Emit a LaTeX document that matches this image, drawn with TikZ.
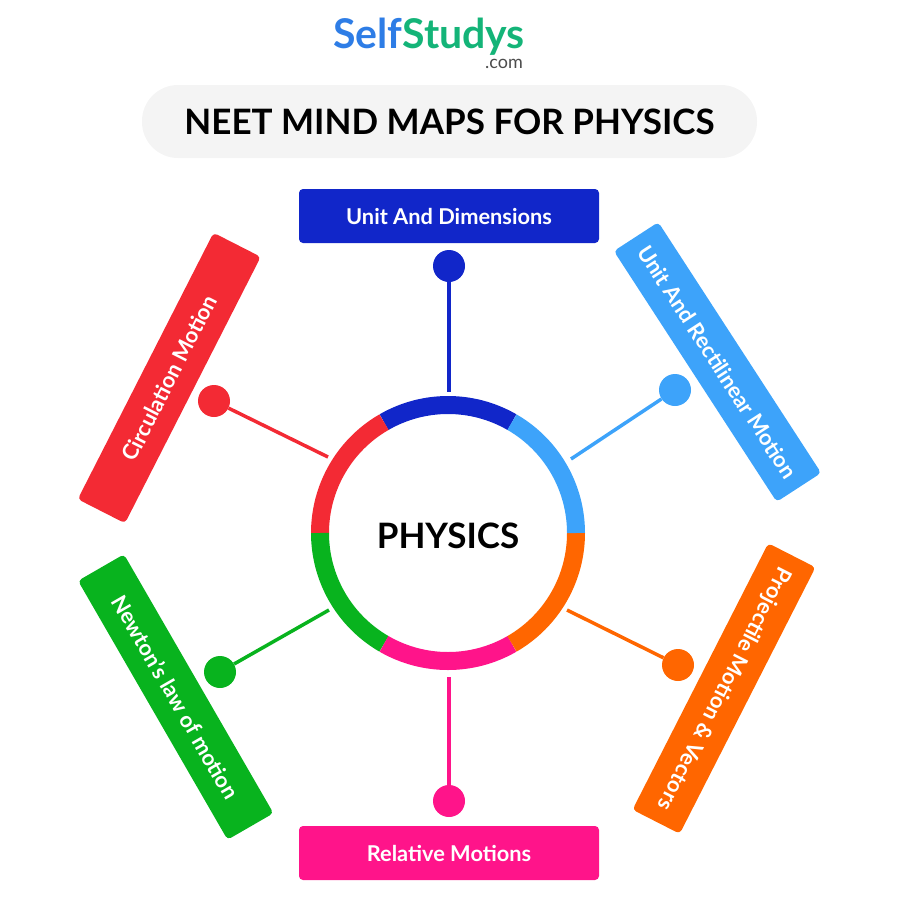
\documentclass[tikz,border=0pt]{standalone}
\usepackage{fontspec}
\setmainfont{Lato}
\definecolor{blue1}{RGB}{17, 38, 201}
\definecolor{sky1}{RGB}{61, 163, 250}
\definecolor{orange1}{RGB}{255, 102, 0}
\definecolor{pink1}{RGB}{255, 20, 138}
\definecolor{green1}{RGB}{8, 179, 30}
\definecolor{red1}{RGB}{243, 42, 52}
\definecolor{pill1}{RGB}{244, 244, 244}
\definecolor{logoblue}{RGB}{46, 125, 230}
\definecolor{logogreen}{RGB}{20, 180, 120}
\usetikzlibrary{positioning}
\tikzset{
  topicbox/.style={fill=#1, rounded corners=4pt, minimum width=299pt, minimum height=53pt, inner sep=0pt,
    text=white, font=\fontsize{21.8}{24}\selectfont\bfseries},
  dotnode/.style={circle, fill=#1, minimum size=32pt, inner sep=0pt},
  spoke/.style={draw=#1, line width=3.5pt},
  ringarc/.style={draw=#1, line width=18pt}
}

\begin{document}
\begin{tikzpicture}[x=1pt, y=-1pt]
  \useasboundingbox (0,0) rectangle (900,900);

  \node[font=\fontsize{41}{44}\selectfont\bfseries] (logo) at (429,37) {\textcolor{logoblue}{Self}\textcolor{logogreen}{Studys}};
  \node[font=\fontsize{18}{20}\selectfont, text=black!70] (dotcom) at (504,64) {.com};
  \node[fill=pill1, rounded corners=36pt, minimum width=615pt, minimum height=73pt, font=\fontsize{35}{40}\selectfont\bfseries] (title) at (449.5,121.5) {NEET MIND MAPS FOR PHYSICS};

  % centre and ring
  \node[font=\fontsize{35}{40}\selectfont\bfseries] (physics) at (448,535.5) {PHYSICS};
  \coordinate (hub) at (448,533);
  \draw[ringarc=blue1] (hub) ++(60:128pt) arc[start angle=60, end angle=120, radius=128pt];
  \draw[ringarc=red1] (hub) ++(120:128pt) arc[start angle=120, end angle=180, radius=128pt];
  \draw[ringarc=green1] (hub) ++(180:128pt) arc[start angle=180, end angle=240, radius=128pt];
  \draw[ringarc=pink1] (hub) ++(240:128pt) arc[start angle=240, end angle=300, radius=128pt];
  \draw[ringarc=orange1] (hub) ++(300:128pt) arc[start angle=300, end angle=360, radius=128pt];
  \draw[ringarc=sky1] (hub) ++(0:128pt) arc[start angle=0, end angle=60, radius=128pt];

  % topics
  \node[topicbox=blue1, minimum width=300pt, minimum height=54pt] (units) at (449,216) {Unit And Dimensions};
  \node[topicbox=sky1, rotate=-57] (rectilinear) at (717.5,362) {Unit And Rectilinear Motion};
  \node[topicbox=orange1, rotate=-117] (projectile) at (724,688.5) {Projectile Motion \& Vectors};
  \node[topicbox=pink1, minimum width=300pt, minimum height=54pt] (relative) at (449,853) {Relative Motions};
  \node[topicbox=green1, rotate=-60] (newton) at (175.75,697) {Newton's law of motion};
  \node[topicbox=red1, rotate=63] (circulation) at (169.25,378) {Circulation Motion};

  % dots
  \node[dotnode=blue1] (dotunits) at (449,266) {};
  \node[dotnode=sky1] (dotrect) at (675,390) {};
  \node[dotnode=orange1] (dotproj) at (678,665) {};
  \node[dotnode=pink1] (dotrel) at (449,801) {};
  \node[dotnode=green1] (dotnewton) at (220,672) {};
  \node[dotnode=red1] (dotcirc) at (214,401) {};

  \coordinate (endunits) at (449,392);
  \coordinate (endrect) at (571,459);
  \coordinate (endproj) at (567,610);
  \coordinate (endrel) at (449,677);
  \coordinate (endnewton) at (329,610);
  \coordinate (endcirc) at (328,457);

  \draw[spoke=blue1] (dotunits) -- (endunits);
  \draw[spoke=sky1] (dotrect) -- (endrect);
  \draw[spoke=orange1] (dotproj) -- (endproj);
  \draw[spoke=pink1] (dotrel) -- (endrel);
  \draw[spoke=green1] (dotnewton) -- (endnewton);
  \draw[spoke=red1] (dotcirc) -- (endcirc);
\end{tikzpicture}
\end{document}
